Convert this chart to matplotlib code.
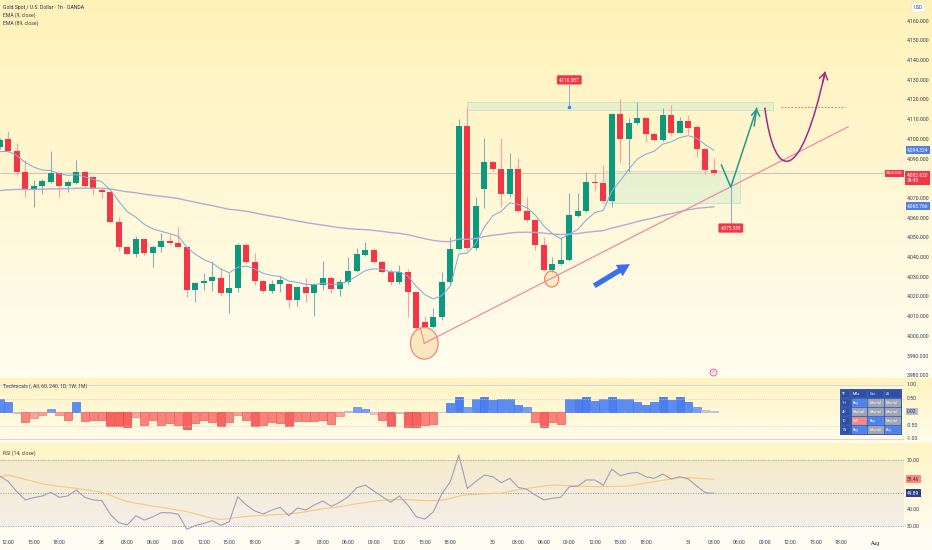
import numpy as np
import matplotlib
matplotlib.use("Agg")
import matplotlib.pyplot as plt
from matplotlib.patches import Rectangle, Ellipse, PathPatch
from matplotlib.path import Path
from matplotlib.lines import Line2D
import matplotlib.transforms as mtransforms

plt.rcParams['font.family'] = ['Roboto', 'DejaVu Sans']

W, H, DPI = 932, 550, 100

# ---------------- data ----------------
bar_index = list(range(-12, 73))

opens = [4096.1, 4099.8, 4093.9, 4083.4, 4074.1, 4076.1, 4078.3, 4082.6, 4076.3, 4077.8, 4083.4, 4080.6, 4074.3,
         4073.3, 4058.0, 4045.0, 4041.8, 4049.4, 4042.0, 4045.2, 4048.2, 4047.2, 4045.3,
         4023.4, 4026.7, 4027.9, 4029.6, 4022.0, 4024.2, 4046.2, 4037.7, 4027.9, 4023.0,
         4026.2, 4026.4, 4018.3, 4024.7, 4022.0, 4025.9, 4029.3, 4023.7, 4027.2, 4033.0,
         4041.0, 4043.8, 4037.7, 4032.6, 4027.2, 4032.6, 4022.5, 4007.1, 4004.4, 4009.8,
         4027.2, 4044.2, 4106.8, 4044.5, 4074.6, 4088.5, 4084.6, 4072.1, 4084.6, 4063.6,
         4058.9, 4046.2, 4033.5, 4036.5, 4038.6, 4061.1, 4063.5, 4078.2, 4077.8, 4068.7,
         4112.5, 4099.8, 4108.0, 4110.5, 4102.5, 4099.5, 4112.2, 4103.2, 4109.3, 4105.9,
         4094.8, 4084.3]
highs = [4100.5, 4104.2, 4097.8, 4089.3, 4079.2, 4079.8, 4093.9, 4083.1, 4079.2, 4089.3, 4084.0, 4081.6, 4075.0,
         4073.8, 4060.3, 4045.5, 4050.9, 4049.8, 4046.3, 4052.4, 4051.8, 4055.2, 4045.8,
         4027.5, 4031.8, 4038.1, 4034.4, 4032.1, 4047.1, 4047.1, 4042.3, 4028.4, 4028.4,
         4030.5, 4027.0, 4025.5, 4029.3, 4026.7, 4038.1, 4030.5, 4029.1, 4040.3, 4044.8,
         4047.9, 4044.8, 4038.5, 4034.0, 4035.9, 4033.9, 4022.5, 4010.2, 4014.1, 4032.6,
         4050.4, 4110.0, 4116.4, 4070.7, 4100.4, 4089.0, 4100.4, 4092.7, 4090.2, 4070.7,
         4059.6, 4050.4, 4040.3, 4050.4, 4072.7, 4072.4, 4083.1, 4082.6, 4086.8, 4113.0,
         4120.3, 4110.5, 4118.9, 4111.0, 4103.3, 4115.6, 4117.3, 4111.3, 4112.2, 4107.1,
         4095.6, 4090.2]
lows = [4095.0, 4093.4, 4081.7, 4070.4, 4065.6, 4072.1, 4077.5, 4070.7, 4073.2, 4077.0, 4075.8, 4071.6, 4070.2,
        4057.8, 4043.1, 4041.5, 4040.3, 4041.0, 4034.9, 4042.8, 4046.0, 4045.0, 4020.0,
        4017.4, 4023.4, 4022.8, 4020.8, 4011.8, 4022.5, 4036.9, 4025.9, 4021.7, 4022.0,
        4022.5, 4014.0, 4015.2, 4017.4, 4010.2, 4023.4, 4021.7, 4020.3, 4026.4, 4032.7,
        4040.8, 4036.9, 4031.8, 4025.9, 4026.4, 4009.8, 4003.0, 4003.9, 4003.9, 4008.1,
        4025.9, 4043.7, 4043.7, 4043.9, 4064.8, 4084.0, 4065.6, 4070.7, 4063.0, 4058.0,
        4043.7, 4033.0, 4031.8, 4036.0, 4038.3, 4060.6, 4063.0, 4074.1, 4068.0, 4065.6,
        4087.7, 4083.4, 4107.1, 4098.6, 4098.9, 4099.2, 4101.9, 4102.8, 4102.5, 4091.0,
        4082.1, 4081.7]
closes = [4099.5, 4093.9, 4083.4, 4074.1, 4076.1, 4078.7, 4082.6, 4076.3, 4078.0, 4083.4, 4076.3, 4074.5, 4073.3,
          4058.0, 4045.0, 4041.8, 4049.4, 4042.0, 4045.2, 4048.2, 4047.2, 4045.2, 4023.2,
          4026.8, 4028.1, 4029.8, 4022.0, 4024.5, 4046.2, 4037.7, 4027.9, 4023.0, 4026.4,
          4028.4, 4018.3, 4024.7, 4022.0, 4025.9, 4029.3, 4023.7, 4027.6, 4033.0, 4041.5,
          4043.8, 4037.7, 4032.6, 4027.2, 4032.6, 4022.5, 4003.9, 4004.4, 4009.8, 4027.6,
          4044.2, 4106.8, 4044.5, 4066.1, 4088.5, 4084.6, 4072.1, 4084.6, 4063.6, 4058.9,
          4046.2, 4033.5, 4036.5, 4038.6, 4061.4, 4063.5, 4078.0, 4077.5, 4068.7, 4112.5,
          4099.8, 4108.0, 4110.5, 4102.5, 4099.5, 4112.0, 4103.2, 4109.3, 4105.7, 4094.8,
          4084.3, 4082.6]

ema9 = [4093.6, 4093.7, 4091.6, 4088.1, 4085.7, 4084.3, 4084.0, 4082.4, 4081.5, 4081.9, 4080.8, 4079.5, 4078.3,
        4074.2, 4068.4, 4063.1, 4060.3, 4056.7, 4054.4, 4053.1, 4052.0, 4050.6, 4045.1,
        4041.5, 4038.8, 4037.0, 4034.0, 4032.1, 4034.9, 4035.5, 4034.0, 4031.8, 4030.7,
        4030.2, 4027.8, 4027.2, 4026.2, 4026.1, 4026.8, 4026.2, 4026.4, 4027.8, 4030.5,
        4033.2, 4034.1, 4033.8, 4032.5, 4032.5, 4030.5, 4025.2, 4021.0, 4018.8, 4020.5,
        4025.3, 4041.6, 4042.1, 4046.9, 4055.3, 4061.1, 4063.3, 4067.6, 4066.8, 4065.2,
        4061.4, 4055.8, 4052.0, 4049.3, 4051.7, 4054.1, 4058.9, 4062.6, 4063.8, 4073.5,
        4078.8, 4084.6, 4089.8, 4092.3, 4093.8, 4097.4, 4098.6, 4100.7, 4101.7, 4100.3,
        4097.1, 4094.3]
ema89 = [4073.8, 4074.2, 4074.4, 4074.4, 4074.4, 4074.5, 4074.7, 4074.7, 4074.8, 4075.0, 4075.0, 4075.0, 4075.0,
         4074.6, 4073.9, 4073.2, 4072.7, 4072.0, 4071.4, 4070.9, 4070.4, 4069.8, 4068.8,
         4067.9, 4067.0, 4066.2, 4065.2, 4064.3, 4063.9, 4063.3, 4062.5, 4061.6, 4060.8,
         4060.1, 4059.2, 4058.4, 4057.6, 4056.9, 4056.3, 4055.6, 4055.0, 4054.5, 4054.2,
         4054.0, 4053.6, 4053.1, 4052.5, 4052.1, 4051.4, 4050.4, 4049.4, 4048.5, 4048.0,
         4047.9, 4049.2, 4049.1, 4049.5, 4050.4, 4051.2, 4051.6, 4052.3, 4052.6, 4052.7,
         4052.6, 4052.2, 4051.8, 4051.5, 4051.7, 4052.0, 4052.6, 4053.1, 4053.5, 4054.8,
         4055.8, 4056.9, 4058.1, 4059.1, 4060.0, 4061.2, 4062.1, 4063.2, 4064.1, 4064.8,
         4065.2, 4065.6]

tech = [0.47, 0.36, -0.05, -0.36, -0.22, -0.10, 0.12, -0.10, -0.28, 0.36, -0.34, -0.28, -0.28,
        -0.50, -0.53, -0.57, -0.20, -0.49, -0.31, -0.49, -0.41, -0.47, -0.63,
        -0.41, -0.31, -0.37, -0.50, -0.37, -0.12, -0.31, -0.53, -0.49, -0.38,
        -0.41, -0.53, -0.35, -0.32, -0.32, -0.28, -0.43, -0.16, 0.02, 0.20,
        0.10, -0.07, -0.28, -0.53, -0.04, -0.56, -0.56, -0.47, -0.43, 0.00,
        0.32, 0.54, 0.17, 0.48, 0.54, 0.46, 0.48, 0.48, 0.26, 0.20,
        -0.37, -0.56, -0.37, -0.43, 0.47, 0.50, 0.54, 0.42, 0.48, 0.54,
        0.47, 0.48, 0.36, 0.26, 0.38, 0.54, 0.46, 0.54, 0.36, 0.17,
        0.08, 0.02]

rsi = [60.3, 56.9, 50.8, 45.8, 47.2, 48.2, 50.4, 47.4, 48.2, 51.8, 47.4, 45.8, 45.4,
       37.1, 32.0, 30.6, 36.2, 33.6, 35.6, 38.1, 38.0, 37.1, 28.0,
       30.2, 31.6, 33.2, 30.4, 32.6, 47.8, 42.7, 39.1, 37.3, 39.7,
       41.3, 36.2, 40.9, 39.7, 42.7, 45.2, 41.9, 44.4, 47.8, 53.2,
       54.8, 51.2, 47.8, 44.4, 48.2, 42.7, 35.6, 34.2, 38.6, 49.4,
       56.9, 73.0, 52.8, 56.9, 60.9, 59.9, 56.2, 58.9, 53.4, 52.2,
       48.8, 45.8, 46.8, 47.4, 53.8, 54.2, 57.9, 57.9, 54.7, 64.5,
       60.5, 61.9, 62.5, 59.9, 58.9, 61.5, 58.5, 59.9, 58.5, 54.2,
       50.2, 49.9]
rsi_ma = [59.5, 60.9, 59.6, 58.2, 57.0, 55.5, 54.8, 54.0, 53.4, 52.8, 52.0, 51.3, 50.4,
          48.6, 46.5, 44.9, 43.8, 43.0, 42.0, 41.4, 40.5, 39.6, 38.7,
          37.4, 36.0, 34.6, 34.0, 34.5, 35.2, 35.8, 36.2, 36.5, 36.8,
          37.0, 37.3, 37.9, 38.6, 39.6, 40.4, 41.0, 41.7, 42.6, 43.5,
          44.2, 44.9, 45.6, 45.9, 46.0, 45.9, 45.7, 45.4, 45.3, 45.7,
          46.6, 48.1, 49.0, 49.2, 49.5, 49.7, 49.9, 51.0, 52.0, 52.8,
          53.5, 54.3, 54.8, 54.7, 54.5, 54.2, 54.0, 53.9, 53.9, 54.0,
          54.1, 54.3, 55.2, 56.0, 56.9, 57.7, 58.5, 59.3, 59.3, 59.0,
          58.7, 58.4]

tick_pos = [-11, -8, -5, 0, 3, 6, 9, 12, 15, 18, 23, 26, 29, 32, 35, 38, 41,
            46, 49, 52, 55, 58, 61, 64, 69, 72, 75, 78, 81, 84, 87, 91]
tick_labels = ["12:00", "15:00", "18:00", "28", "03:00", "06:00", "09:00", "12:00", "15:00", "18:00",
               "29", "03:00", "06:00", "09:00", "12:00", "15:00", "18:00",
               "30", "03:00", "06:00", "09:00", "12:00", "15:00", "18:00",
               "31", "03:00", "06:00", "09:00", "12:00", "15:00", "18:00", "Aug"]

price_ticks = [4160, 4150, 4140, 4130, 4120, 4110, 4100, 4090, 4070, 4060, 4050,
               4040, 4030, 4020, 4010, 4000, 3990, 3980]

table_header = ["TF", "MAs", "Osc", "All"]
table_rows = ["1H", "4H", "1D", "1W"]
table_vals = [["Buy", "Neutral", "Neutral"],
              ["Neutral", "Neutral", "Neutral"],
              ["Sell", "Buy", "Neutral"],
              ["Buy", "Neutral", "Buy"]]

last_close = 4082.620
ema9_last = 4094.324
ema89_last = 4065.766
zone_high = 4116.387
target_low = 4075.559
rsi_last = 49.89
rsi_ma_last = 58.46

# ---------------- figure ----------------
fig = plt.figure(figsize=(W / DPI, H / DPI), dpi=DPI)

# background gradient
bg = np.zeros((H, 1, 3))
def grad(y0, y1, c0, c1):
    c0 = np.array(c0) / 255.0
    c1 = np.array(c1) / 255.0
    n = y1 - y0
    for k in range(n):
        t = k / max(n - 1, 1)
        bg[y0 + k, 0] = c0 * (1 - t) + c1 * t
grad(0, 378, (255, 242, 184), (255, 253, 241))
grad(378, 443, (255, 244, 193), (255, 252, 236))
grad(443, 531, (255, 245, 196), (255, 252, 240))
grad(531, 550, (255, 253, 243), (255, 253, 243))
ax_bg = fig.add_axes([0, 0, 1, 1])
ax_bg.imshow(bg, aspect='auto', extent=(0, 1, 0, 1), origin='upper', interpolation='bilinear')
ax_bg.set_axis_off()

def add_ax(x0, y0, x1, y1):
    a = fig.add_axes([x0 / W, 1 - y1 / H, (x1 - x0) / W, (y1 - y0) / H])
    a.set_facecolor('none')
    a.set_axis_off()
    return a

XL = ((0 - 101.8) / 8.5, (904 - 101.8) / 8.5)
FS = 3.7

# ---------------- main pane ----------------
ax = add_ax(0, 0, 904, 378)
ax.set_xlim(*XL)
ax.set_ylim(4000 - 42 / 1.97, 4000 + 336 / 1.97)

GREEN, RED = '#0b9a7d', '#f23645'
GW, RW = '#86b0c2', '#f4a0a6'
up = [c >= o for o, c in zip(opens, closes)]
ax.axhline(last_close, color='#f4a8a8', lw=0.6, zorder=1)
ax.vlines(bar_index, lows, highs, colors=[GW if u else RW for u in up], lw=0.8, zorder=3)
bottoms = [min(o, c) for o, c in zip(opens, closes)]
heights = [max(abs(c - o), 0.6) for o, c in zip(opens, closes)]
ax.bar(bar_index, heights, bottom=bottoms, width=0.72,
       color=[GREEN if u else RED for u in up], lw=0, zorder=4)

ax.plot(bar_index, ema89, color='#b5a9dc', lw=1.0, zorder=5)
ax.plot(bar_index, ema9, color='#86acd8', lw=0.75, zorder=5)

# zones
ax.add_patch(Rectangle((43.0, 4114.6), 36.0, 4.1, fc=(0.80, 0.92, 0.80, 0.45),
                       ec='#c5e2cc', lw=0.6, zorder=2))
ax.add_patch(Rectangle((59.0, 4067.4), 16.1, 16.4, fc=(0.80, 0.92, 0.80, 0.45),
                       ec='#c5e2cc', lw=0.6, zorder=2))

# high label
ax.plot([55, 55], [4127.4, 4116.4], color='#9cb0cc', lw=0.7, zorder=6)
ax.plot([55], [4116.4], marker='o', ms=1.6, color='#4a7ee8', zorder=7)
ax.text(55, 4130.0, f"{zone_high:,.3f}", ha='center', va='center', color='white', fontsize=3.4,
        zorder=8, bbox=dict(boxstyle='round,pad=0.45,rounding_size=0.25', fc='#f23645', ec='none'))

# trend line + circles
ax.add_patch(Ellipse((37.94, 3996.3), 3.26, 16.1, fc='#fbe7bd', ec='#f08878', lw=0.9, zorder=6))
ax.plot([37.94, 37.5], [3996.3, 4003.6], color='#f08878', lw=0.7, zorder=7)
ax.add_patch(Ellipse((52.92, 4028.9), 1.65, 8.1, fc=(0.98, 0.88, 0.70, 0.6), ec='#f07860', lw=0.8, zorder=6))
ax.plot([37.94, 87.8], [3996.3, 4106.2], color='#f28aa0', lw=0.9, zorder=6)

# blue arrow
ax.annotate('', xy=(62.14, 4036.5), xytext=(57.94, 4025.5),
            arrowprops=dict(arrowstyle='simple,head_length=0.9,head_width=0.95,tail_width=0.38',
                            fc='#3a6ff0', ec='none', shrinkA=0, shrinkB=0), zorder=7)

# green projection
ax.plot([74.0, 74.0], [target_low, 4057.4], color='#8fb0dc', lw=0.8, zorder=6)
ax.plot([72.9, 74.0, 77.05], [4086.8, target_low, 4115.6], color='#23998a', lw=1.1, zorder=7,
        solid_joinstyle='miter')
ax.annotate('', xy=(77.05, 4115.6), xytext=(76.75, 4106.6),
            arrowprops=dict(arrowstyle='->,head_length=0.45,head_width=0.3', color='#23998a', lw=1.1,
                            shrinkA=0, shrinkB=0), zorder=7)
ax.text(74.0, 4054.8, f"{target_low:,.3f}", ha='center', va='center', color='white', fontsize=3.4,
        zorder=8, bbox=dict(boxstyle='round,pad=0.45,rounding_size=0.25', fc='#f23645', ec='none'))

# purple curve
P0, P1, P2, P3 = (78.0, 4115.9), (79.2, 4077.0), (82.2, 4077.0), (85.1, 4134.2)
curve = Path([P0, P1, P2, P3], [Path.MOVETO, Path.CURVE4, Path.CURVE4, Path.CURVE4])
ax.add_patch(PathPatch(curve, fc='none', ec='#9a2c8e', lw=1.1, zorder=7))
ax.annotate('', xy=P3, xytext=(P3[0] - 0.25, P3[1] - 5.0),
            arrowprops=dict(arrowstyle='->,head_length=0.45,head_width=0.3', color='#9a2c8e', lw=1.1,
                            shrinkA=0, shrinkB=0), zorder=7)
ax.plot([79.9, 87.4], [4116.1, 4116.1], color='#f07070', lw=0.8, ls=(0, (1.5, 1.5)), zorder=6)

# legend text
fig.text(3 / W, 1 - 7 / H, "Gold Spot / U.S. Dollar · 1h · OANDA", fontsize=FS, color='#2a2e55',
         va='center', ha='left')
fig.text(3 / W, 1 - 15 / H, "EMA (9, close)", fontsize=FS, color='#3a3e55', va='center', ha='left')
fig.text(3 / W, 1 - 23 / H, "EMA (89, close)", fontsize=FS, color='#3a3e55', va='center', ha='left')

# price axis
tm = mtransforms.blended_transform_factory(fig.transFigure, ax.transData)
for p in price_ticks:
    ax.text(907 / W, p, f"{p:,.3f}", transform=tm, fontsize=FS, color='#333a50', va='center', ha='left')
ax.text(907 / W, ema9_last, f"{ema9_last:,.3f}", transform=tm, fontsize=3.5, color='white', va='center',
        ha='left', bbox=dict(boxstyle='square,pad=0.3', fc='#4d7fe6', ec='none'))
ax.text(907 / W, ema89_last, f"{ema89_last:,.3f}", transform=tm, fontsize=3.5, color='white', va='center',
        ha='left', bbox=dict(boxstyle='square,pad=0.3', fc='#4d7fe6', ec='none'))
ax.text(907 / W, last_close + 0.3, f"{last_close:,.3f}\n34:45", transform=tm, fontsize=3.5, color='white',
        va='top', ha='left', linespacing=1.2,
        bbox=dict(boxstyle='square,pad=0.35', fc='#f23645', ec='none'))
ax.text(902.5 / W, last_close, "XAUUSD", transform=tm, fontsize=3.2, color='white', va='center',
        ha='right', bbox=dict(boxstyle='square,pad=0.3', fc='#f23645', ec='none'))
fig.text(918 / W, 1 - 7.5 / H, "USD", fontsize=3.5, color='#333a50', va='center', ha='center',
         bbox=dict(boxstyle='round,pad=0.4,rounding_size=0.3', fc='white', ec='#e0e0e0', lw=0.4))

# lightning icon
fig.add_artist(Line2D([713 / W], [1 - 372 / H], marker='o', ms=5, mfc='#fde6ee', mec='#e4578a',
                      mew=0.6, transform=fig.transFigure))
fig.text(713 / W, 1 - 372 / H, "ϟ", fontsize=3.2, color='#e4578a', ha='center', va='center')

# ---------------- technicals pane ----------------
ax_t = add_ax(0, 378, 904, 443)
ax_t.set_xlim(*XL)
ax_t.set_ylim((412 - 443) / 27, (412 - 378) / 27)

def tcol(v):
    if v >= 0.5:
        return '#4b7ff0', '#3a6de6'
    if v >= 0.25:
        return '#5b8cf2', '#4676e8'
    if v >= 0.1:
        return '#78a0f2', '#5a88ea'
    if v >= 0.0:
        return '#c6cde0', '#aab4d2'
    if v > -0.1:
        return '#e2c6d0', '#d8a8b8'
    if v > -0.25:
        return '#f8a49c', '#f07c76'
    if v > -0.5:
        return '#f8847c', '#f05a56'
    return '#f46460', '#ee3c40'
fills = [tcol(v)[0] for v in tech]
edges = [tcol(v)[1] for v in tech]
ax_t.axhline(1.0, color='#d6d6dc', lw=0.7)
ax_t.axhline(-1.0, color='#f5c9c4', lw=0.7)
ax_t.axhline(0.5, color='#c6ccd8', lw=0.5, ls=(0, (1.5, 1.5)))
ax_t.axhline(-0.5, color='#f0c0c0', lw=0.5, ls=(0, (1.5, 1.5)))
ax_t.bar(bar_index, tech, width=0.9, color=fills, edgecolor=edges, lw=0.5)
fig.text(3 / W, 1 - 386 / H, "Technicals (, All, 60, 240, 1D, 1W, 1M)", fontsize=FS, color='#3a3e55',
         va='center', ha='left')
tt = mtransforms.blended_transform_factory(fig.transFigure, ax_t.transData)
for v, s in [(1.0, "1.00"), (0.5, "0.50"), (-0.5, "-0.50"), (-1.0, "-1.00")]:
    ax_t.text(907 / W, v, s, transform=tt, fontsize=FS, color='#333a50', va='center', ha='left')
ax_t.text(907 / W, tech[-1], f"{tech[-1]:.2f}", transform=tt, fontsize=3.5, color='#1f2a55', va='center',
          ha='left', bbox=dict(boxstyle='square,pad=0.3', fc='#b9bdca', ec='none'))

# table
def px_rect(x, y, w, h, **kw):
    fig.add_artist(Rectangle((x / W, 1 - (y + h) / H), w / W, h / H, transform=fig.transFigure, **kw))

def px_text(x, y, s, **kw):
    fig.text(x / W, 1 - y / H, s, **kw)

cell_col = {"Buy": '#4f82ec', "Neutral": '#a2a6b2', "Sell": '#f48a80'}
cols = [(840.5, 10.5), (851.5, 16.2), (868.2, 16.2), (884.9, 16.6)]
row_y = [389.5, 398.5, 407.5, 416.5, 425.5]
px_rect(840, 389, 62, 45.5, fc='#2c4ea4', ec='none')
for j, (cx, cw) in enumerate(cols):
    px_rect(cx, row_y[0], cw - 0.6, 8.4, fc='#2c4ea4', ec='#5a76c0', lw=0.3)
    px_text(cx + 1.2, row_y[0] + 4.2, table_header[j], fontsize=2.6, color='white', va='center', ha='left')
for i, rl in enumerate(table_rows):
    ry = row_y[i + 1]
    px_rect(cols[0][0], ry, cols[0][1] - 0.6, 8.4, fc='#2c4ea4', ec='#5a76c0', lw=0.3)
    px_text(cols[0][0] + 1.2, ry + 4.2, rl, fontsize=2.6, color='white', va='center', ha='left')
    for j, val in enumerate(table_vals[i]):
        cx, cw = cols[j + 1]
        px_rect(cx, ry, cw - 0.6, 8.4, fc=cell_col[val], ec='#7f98d8', lw=0.3)
        px_text(cx + 1.2, ry + 4.2, val, fontsize=2.6, color='white', va='center', ha='left')

# ---------------- RSI pane ----------------
ax_r = add_ax(0, 445, 904, 531)
ax_r.set_xlim(*XL)
ax_r.set_ylim(50 - 38 / 1.65, 50 + 48 / 1.65)
ax_r.axhspan(30, 70, color='#8a6cc0', alpha=0.085, lw=0)
for lv in (70, 50, 30):
    ax_r.axhline(lv, color='#9d9dab', lw=0.6, ls=(0, (1.5, 1.5)))
ax_r.plot(bar_index, rsi_ma, color='#f8c978', lw=0.8)
ax_r.plot(bar_index, rsi, color='#a39dbf', lw=0.8)
fig.text(3 / W, 1 - 453 / H, "RSI (14, close)", fontsize=FS, color='#3a3e55', va='center', ha='left')
tr = mtransforms.blended_transform_factory(fig.transFigure, ax_r.transData)
for lv in (70, 40, 30):
    ax_r.text(907 / W, lv, f"{lv:.2f}", transform=tr, fontsize=FS, color='#333a50', va='center', ha='left')
ax_r.text(907 / W, rsi_ma[-1], f"{rsi_ma_last:.2f}", transform=tr, fontsize=3.5, color='#7a1a1a',
          va='center', ha='left', bbox=dict(boxstyle='square,pad=0.3', fc='#f58c84', ec='none'))
ax_r.text(907 / W, rsi[-1], f"{rsi_last:.2f}", transform=tr, fontsize=3.5, color='white',
          va='center', ha='left', bbox=dict(boxstyle='square,pad=0.3', fc='#2b3f8c', ec='none'))

# time axis
tx = mtransforms.blended_transform_factory(ax_r.transData, fig.transFigure)
for p, s in zip(tick_pos, tick_labels):
    ax_r.text(p, 1 - 543 / H, s, transform=tx, fontsize=FS, color='#333a50', ha='center', va='center')

fig.savefig("out.png", dpi=DPI)
